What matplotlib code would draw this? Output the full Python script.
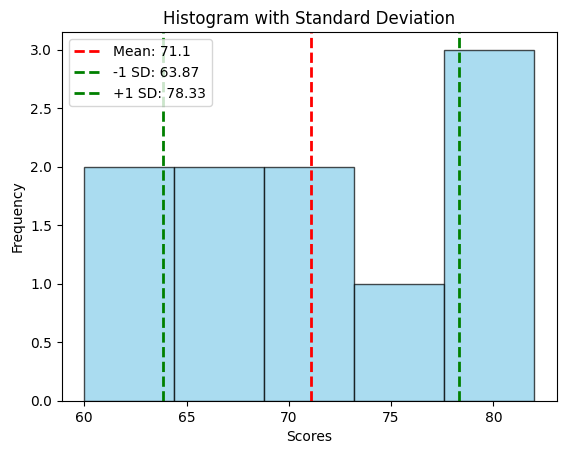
import numpy as np
import matplotlib
matplotlib.use("Agg")
import matplotlib.pyplot as plt

scores = [60, 62, 65, 67, 70, 72, 75, 78, 80, 82]

mean = np.mean(scores)
std = np.std(scores)

fig = plt.figure(figsize=(5.67, 4.55), dpi=100)
ax = fig.add_axes([0.109, 0.119, 0.873, 0.81])

ax.hist(scores, bins=5, color='skyblue', edgecolor='black', alpha=0.7)
ax.axvline(mean, color='red', linestyle='--', linewidth=2, label=f'Mean: {round(mean, 2)}')
ax.axvline(mean - std, color='green', linestyle='--', linewidth=2, label=f'-1 SD: {round(mean - std, 2)}')
ax.axvline(mean + std, color='green', linestyle='--', linewidth=2, label=f'+1 SD: {round(mean + std, 2)}')

ax.set_title("Histogram with Standard Deviation")
ax.set_xlabel("Scores")
ax.set_ylabel("Frequency")
ax.legend(loc='upper left')

fig.savefig("out.png", dpi=100)
